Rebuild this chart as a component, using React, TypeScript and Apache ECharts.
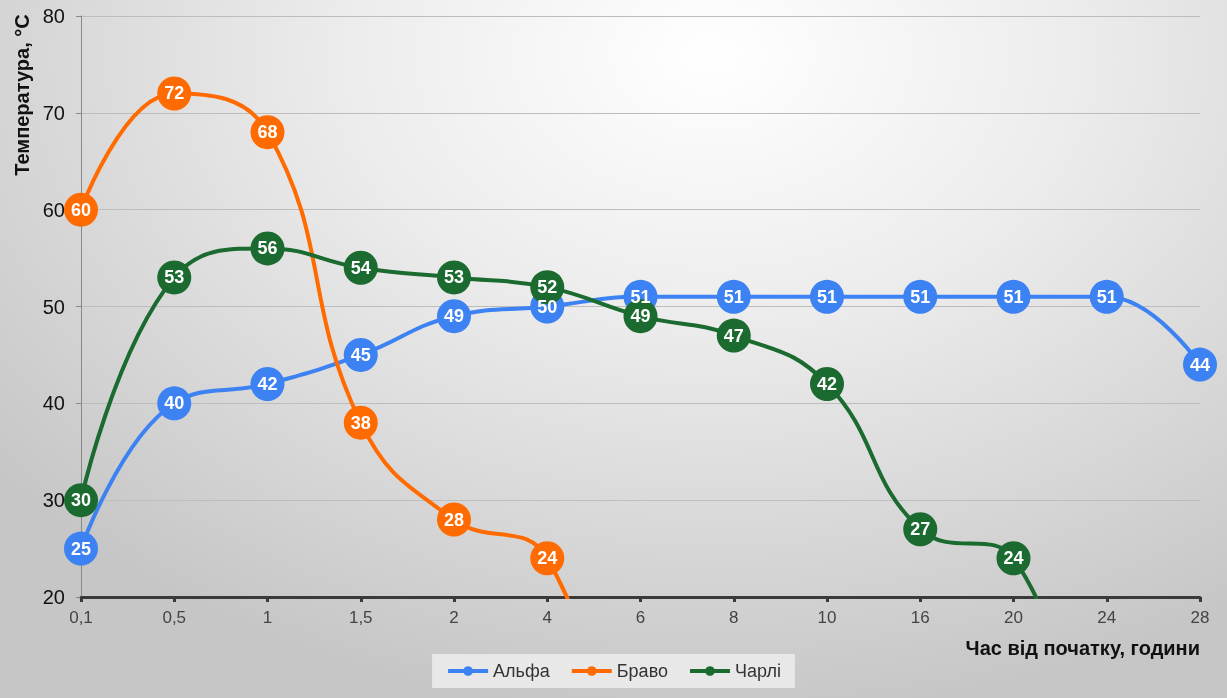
import React, { useEffect, useRef } from "react";
import * as echarts from "echarts";

const categories = ["0,1", "0,5", "1", "1,5", "2", "4", "6", "8", "10", "16", "20", "24", "28"];
const seriesNames = ["Альфа", "Браво", "Чарлі"];
const alpha = [25, 40, 42, 45, 49, 50, 51, 51, 51, 51, 51, 51, 44];
const bravo = [60, 72, 68, 38, 28, 24, -6, null, null, null, null, null, null];
const charlie = [30, 53, 56, 54, 53, 52, 49, 47, 42, 27, 24, -6, null];
const colors = ["#3d82f2", "#ff6b00", "#1b6a2f"];
const yTitle = "Температура, °C";
const xTitle = "Час від початку, години";

export default function App() {
  const ref = useRef<HTMLDivElement>(null);
  useEffect(() => {
    document.body.style.margin = "0";
    const chart = echarts.init(ref.current!, null, { renderer: "svg" });
    const data = [alpha, bravo, charlie];
    chart.setOption({
      animation: false,
      textStyle: { fontFamily: "Liberation Sans, Arial, sans-serif" },
      grid: { left: 81, right: 27, top: 16, bottom: 101, containLabel: false },
      legend: {
        bottom: 10,
        left: "center",
        backgroundColor: "rgba(235,235,235,0.9)",
        padding: [8, 14],
        itemGap: 20,
        itemWidth: 40,
        itemHeight: 12,
        lineStyle: { width: 4 },
        textStyle: { fontSize: 18, color: "#333" },
        data: seriesNames,
      },
      graphic: [
        {
          type: "text",
          x: 22,
          y: 95,
          rotation: Math.PI / 2,
          style: {
            text: yTitle,
            fontSize: 20,
            fontWeight: "bold",
            fill: "#111",
            align: "center",
            verticalAlign: "middle",
            fontFamily: "Liberation Sans, Arial, sans-serif",
          },
        },
      ],
      xAxis: {
        type: "category",
        data: categories,
        boundaryGap: false,
        name: xTitle,
        nameLocation: "end",
        nameGap: 0,
        nameTextStyle: {
          fontSize: 20,
          fontWeight: "bold",
          color: "#111",
          align: "right",
          verticalAlign: "top",
          padding: [41, 0, 0, 0],
        },
        axisLine: { lineStyle: { color: "#3a3a3a", width: 3 } },
        axisTick: { show: true, length: 5, lineStyle: { color: "#3a3a3a", width: 3 } },
        axisLabel: { fontSize: 17, color: "#444", margin: 12 },
        splitLine: { show: false },
      },
      yAxis: {
        type: "value",
        min: 20,
        max: 80,
        interval: 10,
        axisLine: { show: true, lineStyle: { color: "#888", width: 1 } },
        axisTick: { show: true, length: 5, lineStyle: { color: "#888" } },
        axisLabel: { fontSize: 20, color: "#111", margin: 16 },
        splitLine: { lineStyle: { color: "#bdbdbd", width: 1 } },
      },
      series: seriesNames.map((name, i) => ({
        name,
        type: "line",
        data: data[i],
        smooth: 0.45,
        clip: true,
        connectNulls: false,
        color: colors[i],
        lineStyle: { width: 4, color: colors[i] },
        symbol: "circle",
        symbolSize: 34,
        itemStyle: { color: colors[i] },
        label: {
          show: true,
          position: "inside",
          color: "#fff",
          fontSize: 18,
          fontWeight: "bold",
        },
      })),
    });
    return () => chart.dispose();
  }, []);
  return (
    <div
      ref={ref}
      style={{
        position: "fixed",
        left: 0,
        top: 0,
        width: 1227,
        height: 698,
        background:
          "radial-gradient(ellipse 75% 95% at 58% 8%, #ffffff 0%, #ececec 40%, #d6d6d6 75%, #c6c6c6 100%)",
      }}
    />
  );
}
